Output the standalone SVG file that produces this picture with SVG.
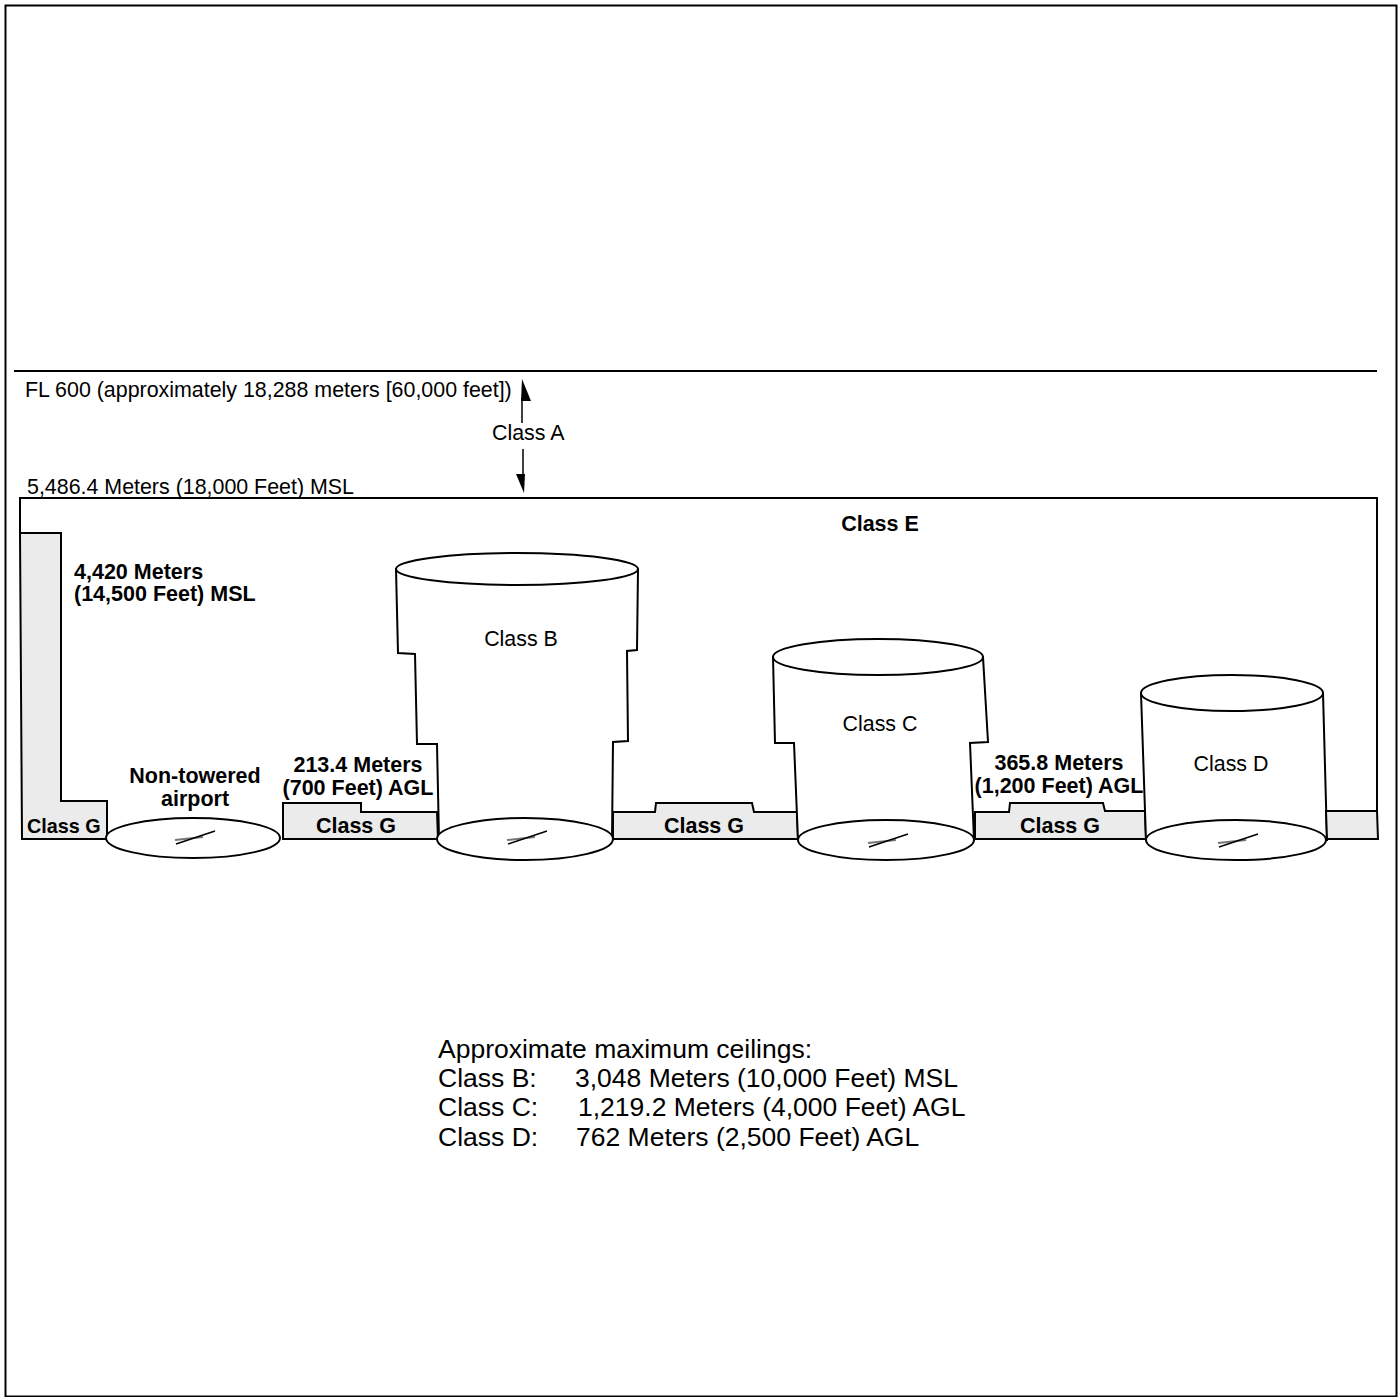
<svg xmlns="http://www.w3.org/2000/svg" width="1399" height="1397" viewBox="0 0 1399 1397">
<style>
.ol{fill:none;stroke:#000;stroke-width:2;stroke-linejoin:miter}
.g{fill:#ebebeb;stroke:#000;stroke-width:2}
.w{fill:#fff;stroke:#000;stroke-width:2}
.t{font-family:"Liberation Sans",Arial,sans-serif;font-size:21.4px;fill:#000}
.b{font-family:"Liberation Sans",Arial,sans-serif;font-size:21.5px;font-weight:bold;fill:#000}
.m{text-anchor:middle}
.lg{font-family:"Liberation Sans",Arial,sans-serif;font-size:26.5px;fill:#000}
</style>
<defs>
<g id="rwy">
<line x1="-18" y1="2" x2="10" y2="-1" stroke="#777" stroke-width="2"/>
<line x1="-17" y1="6" x2="22" y2="-7" stroke="#000" stroke-width="1.4"/>
</g>
</defs>
<rect x="0" y="0" width="1399" height="1397" fill="#fff"/>
<rect id="frame" x="5.5" y="5.5" width="1391" height="1391" fill="none" stroke="#000" stroke-width="2"/>

<g id="fl600">
<line x1="14" y1="371" x2="1377" y2="371" stroke="#000" stroke-width="2"/>
<text class="t" x="25" y="397">FL 600 (approximately 18,288 meters [60,000 feet])</text>
</g>
<g id="classA">
<text class="t" x="492" y="440">Class A</text>
</g>
<g id="msl18000">
<text class="t" x="27" y="494">5,486.4 Meters (18,000 Feet) MSL</text>
</g>

<g id="connectors">
<line x1="522" y1="398" x2="522" y2="423" stroke="#000" stroke-width="1.5"/>
<polygon points="522,379 521,401 531,401" fill="#000"/>
<line x1="523" y1="449" x2="523" y2="476" stroke="#000" stroke-width="1.5"/>
<polygon points="516,474 525,474 524,493" fill="#000"/>
</g>

<g id="classE">
<path class="ol" d="M20,533 L20,498 L1377,498 L1377,811"/>
<text class="b m" x="880" y="531">Class E</text>
</g>

<g id="classG1">
<path class="g" d="M20,533 L61,533 L61,801 L107,801 L107,839 L22,839 Z"/>
<text class="b" x="27" y="833" style="font-size:19.8px">Class G</text>
</g>
<g id="label14500">
<text class="b" x="74" y="579">4,420 Meters</text>
<text class="b" x="74" y="601">(14,500 Feet) MSL</text>
</g>

<g id="airport">
<ellipse class="w" cx="193" cy="838" rx="87" ry="20"/>
<use href="#rwy" x="193" y="838"/>
<text class="b m" x="195" y="783">Non-towered</text>
<text class="b m" x="195" y="806">airport</text>
</g>

<g id="classG2">
<path class="g" d="M283,839 L283,803 L361,803 L361,812 L437,812 L438,839 Z"/>
<text class="b m" x="356" y="833">Class G</text>
<text class="b m" x="358" y="772">213.4 Meters</text>
<text class="b m" x="358" y="795">(700 Feet) AGL</text>
</g>

<g id="classB">
<path class="w" d="M396,569 L398,653 L415,654 L417,744 L437,744 L439,839 L612,839 L613,742 L628,741 L627,651 L637,650 L638,569 Z"/>
<ellipse class="w" cx="525" cy="839" rx="88" ry="21"/>
<use href="#rwy" x="525" y="838"/>
<ellipse class="w" cx="517" cy="569" rx="121" ry="16"/>
<text class="t m" x="521" y="646">Class B</text>
</g>

<g id="classG3">
<path class="g" d="M613,839 L613,812 L655,812 L656,803 L752,803 L754,812 L797,812 L798,839 Z"/>
<text class="b m" x="704" y="833">Class G</text>
</g>

<g id="classC">
<path class="w" d="M773,657 L775,743 L794,743 L798,840 L974,840 L970,743 L988,742 L983,657 Z"/>
<ellipse class="w" cx="886" cy="840" rx="88" ry="20"/>
<use href="#rwy" x="886" y="841"/>
<ellipse class="w" cx="878" cy="657" rx="105" ry="18"/>
<text class="t m" x="880" y="731">Class C</text>
</g>

<g id="classG4">
<path class="g" d="M975,839 L975,812 L1009,812 L1010,803 L1103,803 L1105,811 L1145,811 L1146,839 Z"/>
<text class="b m" x="1060" y="833">Class G</text>
<text class="b m" x="1059" y="770">365.8 Meters</text>
<text class="b m" x="1059" y="793">(1,200 Feet) AGL</text>
</g>

<g id="classD">
<path class="w" d="M1141,693 L1146,840 L1327,840 L1323,693 Z"/>
<ellipse class="w" cx="1236" cy="840" rx="90" ry="20"/>
<use href="#rwy" x="1236" y="841"/>
<ellipse class="w" cx="1232" cy="693" rx="91" ry="18"/>
<text class="t m" x="1231" y="771">Class D</text>
</g>

<g id="classG5">
<path class="g" d="M1326,811 L1377,811 L1378,839 L1327,839 Z"/>
</g>

<g id="legend">
<text class="lg" x="438" y="1058">Approximate maximum ceilings:</text>
<text class="lg" x="438" y="1087">Class B:</text>
<text class="lg" x="575" y="1087">3,048 Meters (10,000 Feet) MSL</text>
<text class="lg" x="438" y="1116">Class C:</text>
<text class="lg" x="578" y="1116">1,219.2 Meters (4,000 Feet) AGL</text>
<text class="lg" x="438" y="1146">Class D:</text>
<text class="lg" x="576" y="1146">762 Meters (2,500 Feet) AGL</text>
</g>
</svg>
